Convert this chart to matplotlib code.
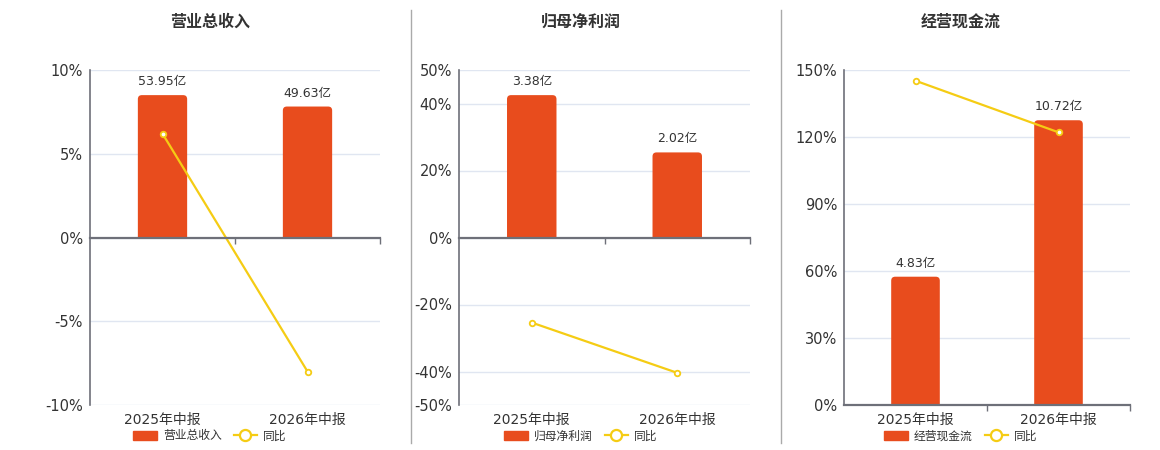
import matplotlib
matplotlib.use("Agg")
import matplotlib.pyplot as plt
from matplotlib.lines import Line2D
from matplotlib.patches import Patch, FancyBboxPatch, Rectangle

plt.rcParams['font.family'] = ['DejaVu Sans', 'Noto Sans CJK SC']

# data
periods = ["2025年中报", "2026年中报"]
titles = ["营业总收入", "归母净利润", "经营现金流"]
bar_values = [[53.95, 49.63], [3.38, 2.02], [4.83, 10.72]]
bar_labels = [["53.95亿", "49.63亿"], ["3.38亿", "2.02亿"], ["4.83亿", "10.72亿"]]
yoy = [[6.2, -8.0], [-25.4, -40.4], [145.2, 122.1]]
pct_limits = [(-10, 10), (-50, 50), (0, 150)]
pct_ticks = [[-10, -5, 0, 5, 10], [-50, -40, -20, 0, 20, 40, 50], [0, 30, 60, 90, 120, 150]]

BAR = "#e84c1d"
LINE = "#f5cc14"
AXIS = "#6e7079"
GRID = "#e0e6f1"
TEXT = "#333333"

W, H = 1160, 450
fig = plt.figure(figsize=(W / 100, H / 100), dpi=100)

# pixel layout: axes left/right, title/legend centre
axes_px = [(90, 380), (459, 750), (844, 1130)]
centre_px = [210, 581, 961]
top_px, bottom_px = 70, 405
radius_px = 4

for i in range(3):
    x0, x1 = axes_px[i]
    rect = [x0 / W, 1 - bottom_px / H, (x1 - x0) / W, (bottom_px - top_px) / H]
    lo, hi = pct_limits[i]
    n = len(periods)
    xs = list(range(n))

    # bottom layer: percent axis + grid
    axg = fig.add_axes(rect)
    axg.set_xlim(-0.5, n - 0.5)
    axg.set_ylim(lo, hi)
    axg.set_yticks(pct_ticks[i])
    axg.set_yticklabels([f"{t}%" for t in pct_ticks[i]])
    axg.set_xticks(xs)
    axg.set_xticklabels(periods)
    axg.tick_params(axis="x", length=0, pad=6, labelsize=10, labelcolor=TEXT)
    axg.tick_params(axis="y", length=0, pad=5, labelsize=10.5, labelcolor=TEXT)
    axg.grid(axis="y", color=GRID, linewidth=1)
    axg.set_axisbelow(True)
    for s in ["top", "right", "bottom"]:
        axg.spines[s].set_visible(False)
    axg.spines["left"].set_color(AXIS)
    axg.spines["left"].set_linewidth(1.2)

    # middle layer: bars on their own scale, zero aligned with 0%
    axb = axg.twinx()
    bmax = max(bar_values[i]) / 0.85
    blo = bmax * lo / hi
    axb.set_ylim(blo, bmax)
    bars = axb.bar(xs, bar_values[i], width=0.34, color=BAR, zorder=2)
    # round the top corners
    x_per_px = n / (x1 - x0)
    y_per_px = (bmax - blo) / (bottom_px - top_px)
    rx = radius_px * x_per_px
    ry = radius_px * y_per_px
    clip = Rectangle((-0.5, 0), n, bmax * 2, transform=axb.transData)
    for b in bars:
        b.set_visible(False)
        fb = FancyBboxPatch((b.get_x(), -ry), b.get_width(), b.get_height() + ry,
                            boxstyle=f"round,pad=0,rounding_size={rx}",
                            mutation_aspect=y_per_px / x_per_px,
                            facecolor=BAR, edgecolor="none", zorder=2)
        axb.add_patch(fb)
        fb.set_clip_path(clip)
    for x, v, lab in zip(xs, bar_values[i], bar_labels[i]):
        axb.annotate(lab, (x, v), xytext=(0, 5), textcoords="offset points",
                     ha="center", va="bottom", fontsize=9, color=TEXT)
    axb.axis("off")

    # top layer: zero axis line + yoy line
    axl = fig.add_axes(rect)
    axl.patch.set_visible(False)
    axl.set_xlim(-0.5, n - 0.5)
    axl.set_ylim(lo, hi)
    for s in ["top", "right", "left"]:
        axl.spines[s].set_visible(False)
    axl.spines["bottom"].set_position(("data", 0))
    axl.spines["bottom"].set_color(AXIS)
    axl.spines["bottom"].set_linewidth(1.6)
    axl.set_xticks([k + 0.5 for k in range(n)])
    axl.set_xticklabels([])
    axl.tick_params(axis="x", length=4, color=AXIS, width=1)
    axl.set_yticks([])
    axl.plot(xs, yoy[i], color=LINE, linewidth=1.6, marker="o", markersize=4,
             markerfacecolor="white", markeredgecolor=LINE, markeredgewidth=1.3,
             clip_on=False)

    # title
    fig.text(centre_px[i] / W, 1 - 22 / H, titles[i], ha="center", va="center",
             fontsize=11.5, fontweight="bold", color=TEXT)

    # legend
    handles = [Patch(facecolor=BAR, edgecolor=BAR),
               Line2D([0], [0], color=LINE, linewidth=1.6, marker="o", markersize=8,
                      markerfacecolor="white", markeredgecolor=LINE, markeredgewidth=1.6)]
    fig.legend(handles, [titles[i], "同比"], loc="center",
               bbox_to_anchor=(centre_px[i] / W, 1 - 436 / H), ncol=2, frameon=False,
               fontsize=8.5, labelcolor=TEXT, handlelength=2.0, handleheight=0.9,
               columnspacing=1.0, handletextpad=0.5)

# separators between panels
for xp in [410.5, 780.5]:
    fig.add_artist(Line2D([xp / W, xp / W], [1 - 10 / H, 1 - 443 / H],
                          color="#aaaaaa", linewidth=1))

fig.savefig("out.png", dpi=100, facecolor="white")
